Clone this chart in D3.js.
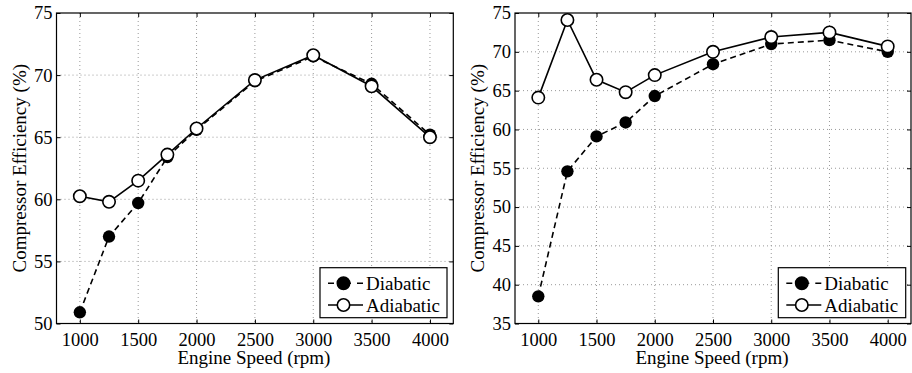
<!DOCTYPE html>
<html><head><meta charset="utf-8">
<script src="https://cdn.jsdelivr.net/npm/d3@7"></script>
</head><body style="margin:0">
<svg id="c" width="912" height="373"></svg>
<script>
const speeds = [1000,1250,1500,1750,2000,2500,3000,3500,4000];
const xTicks = [1000,1500,2000,2500,3000,3500,4000];
const leftDiabatic  = [50.9,57.0,59.7,63.4,65.6,69.5,71.5,69.3,65.2];
const leftAdiabatic = [60.25,59.8,61.5,63.6,65.7,69.6,71.6,69.1,65.0];
const rightDiabatic  = [38.5,54.6,59.1,60.9,64.3,68.4,71.0,71.5,70.0];
const rightAdiabatic = [64.1,74.1,66.4,64.8,67.0,70.0,71.9,72.5,70.7];
const leftYTicks = [50,55,60,65,70,75];
const rightYTicks = [35,40,45,50,55,60,65,70,75];
const seriesNames = ["Diabatic","Adiabatic"];

const svg = d3.select("#c");

function txt(sel, fs){
  return sel.attr("font-size", fs || 19).style("font-family", '"Liberation Serif"').attr("fill","#000");
}

function panel(o){
  const g = svg.append("g");
  const x = d3.scaleLinear().domain([800,4200]).range([o.x0,o.x1]);
  const y = d3.scaleLinear().domain(o.ydom).range([o.y1,o.y0]);
  g.selectAll(".gx").data(xTicks).join("line")
    .attr("x1",d=>x(d)).attr("x2",d=>x(d)).attr("y1",o.y0).attr("y2",o.y1)
    .attr("stroke","#999").attr("stroke-width",1).attr("stroke-dasharray","1,3");
  g.selectAll(".gy").data(o.yticks.slice(1,-1)).join("line")
    .attr("y1",d=>y(d)).attr("y2",d=>y(d)).attr("x1",o.x0).attr("x2",o.x1)
    .attr("stroke","#999").attr("stroke-width",1).attr("stroke-dasharray","1,3");
  const ax = (gen, tr) => g.append("g").attr("transform",tr).call(gen);
  const bx = ax(d3.axisBottom(x).tickValues(xTicks).tickSize(-4).tickPadding(9.2).tickFormat(d3.format("d")), `translate(0,${o.y1})`);
  const tx = ax(d3.axisTop(x).tickValues(xTicks).tickSize(-4).tickFormat(""), `translate(0,${o.y0})`);
  const ly = ax(d3.axisLeft(y).tickValues(o.yticks).tickSize(-4).tickPadding(4).tickFormat(d3.format("d")), `translate(${o.x0},0)`);
  const ry = ax(d3.axisRight(y).tickValues(o.yticks).tickSize(-4).tickFormat(""), `translate(${o.x1},0)`);
  [bx,tx,ly,ry].forEach(a=>{
    a.attr("font-family", null).attr("font-size", null);
    a.select(".domain").remove();
    a.selectAll("line").attr("stroke","#000");
    txt(a.selectAll("text"), 18.5);
  });
  g.append("rect").attr("x",o.x0).attr("y",o.y0).attr("width",o.x1-o.x0).attr("height",o.y1-o.y0)
    .attr("fill","none").attr("stroke","#000").attr("stroke-width",1.2);
  txt(g.append("text")).attr("x",(o.x0+o.x1)/2 - 1).attr("y",363.5).attr("text-anchor","middle").text("Engine Speed (rpm)");
  txt(g.append("text")).attr("transform",`translate(${o.ylx},${(o.y0+o.y1)/2}) rotate(-90)`).attr("text-anchor","middle").attr("dy","0.35em").text("Compressor Efficiency (%)");
  const line = d3.line().x((d,i)=>x(speeds[i])).y(d=>y(d));
  g.append("path").datum(o.dia).attr("d",line).attr("fill","none").attr("stroke","#000").attr("stroke-width",1.6).attr("stroke-dasharray","6,4");
  g.append("path").datum(o.adi).attr("d",line).attr("fill","none").attr("stroke","#000").attr("stroke-width",1.6);
  g.selectAll(".pd").data(o.dia).join("circle").attr("cx",(d,i)=>x(speeds[i])).attr("cy",d=>y(d)).attr("r",6.2).attr("fill","#000");
  g.selectAll(".pa").data(o.adi).join("circle").attr("cx",(d,i)=>x(speeds[i])).attr("cy",d=>y(d)).attr("r",6.2).attr("fill","#fff").attr("stroke","#000").attr("stroke-width",1.6);
  const L = g.append("g").attr("transform",`translate(${o.lx},${o.ly})`);
  L.append("rect").attr("width",o.lw).attr("height",50).attr("fill","#fff").attr("stroke","#000").attr("stroke-width",1.2);
  seriesNames.forEach((n,i)=>{
    const yy = 15.6 + i*21.7;
    L.append("line").attr("x1",8).attr("x2",43).attr("y1",yy).attr("y2",yy).attr("stroke","#000").attr("stroke-width",1.6)
      .attr("stroke-dasharray", i===0 ? "6,6,11,6" : null);
    L.append("circle").attr("cx",23.5).attr("cy",yy).attr("r",6.2).attr("fill",i===0?"#000":"#fff").attr("stroke","#000").attr("stroke-width",1.6);
    txt(L.append("text")).attr("x",46).attr("y",yy).attr("dy","0.35em").text(n);
  });
}

panel({x0:56.5,x1:453.3,y0:13,y1:323.5,ydom:[50,75],yticks:leftYTicks,dia:leftDiabatic,adi:leftAdiabatic,ylx:19,lx:320,ly:267.7,lw:127});
panel({x0:515,x1:911,y0:13,y1:323.5,ydom:[35,75],yticks:rightYTicks,dia:rightDiabatic,adi:rightAdiabatic,ylx:477,lx:778.3,ly:267.7,lw:127.4});
</script></body></html>
